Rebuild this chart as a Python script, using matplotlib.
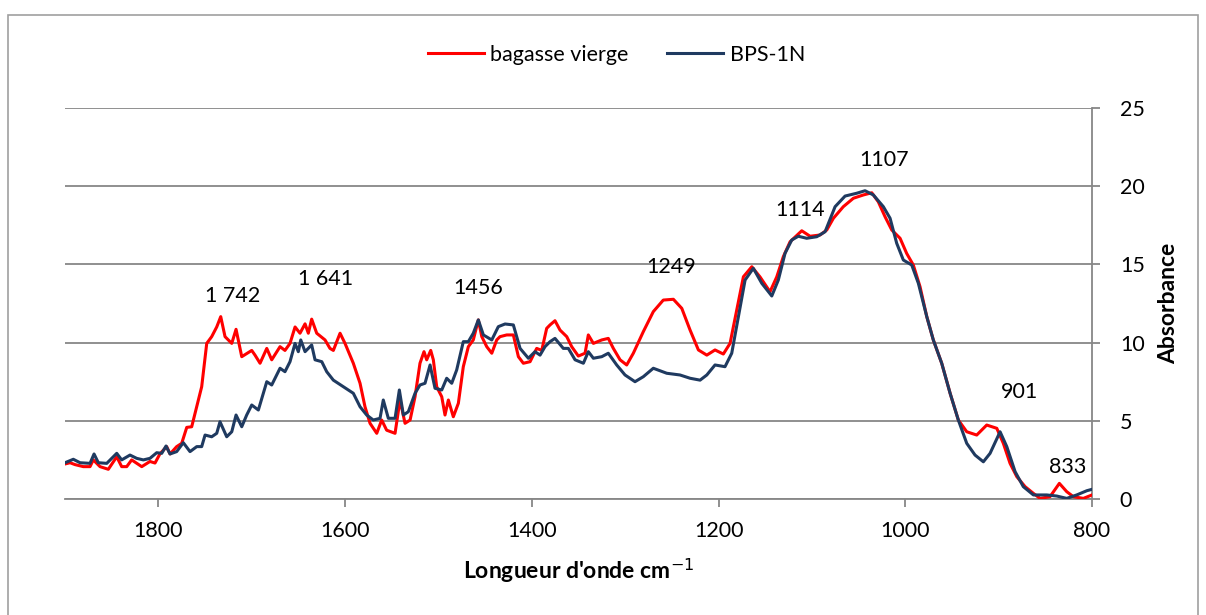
import matplotlib.pyplot as plt
from matplotlib.patches import Rectangle

plt.rcParams['font.family'] = ['Lato', 'DejaVu Sans']
plt.rcParams['mathtext.fontset'] = 'custom'
plt.rcParams['mathtext.rm'] = 'Lato:bold'
plt.rcParams['mathtext.bf'] = 'Lato:bold'
plt.rcParams['mathtext.default'] = 'bf'

# spectre bagasse vierge
w_vierge = [1900, 1894.6, 1889.3, 1880.4, 1873.2, 1869.7, 1862.5, 1853.6, 1844.6, 1839.3,
            1833.9, 1828.6, 1817.8, 1809.0, 1803.6, 1798.2, 1791.1, 1787.5, 1780.4, 1775.0,
            1769.6, 1764.3, 1758.9, 1753.6, 1748.2, 1742.9, 1737.5, 1733.2, 1728.6, 1721.4,
            1716.8, 1710.7, 1705.4, 1700.0, 1696.5, 1691.1, 1683.9, 1678.6, 1669.7, 1664.4,
            1659.0, 1653.6, 1648.3, 1642.9, 1639.4, 1635.8, 1630.4, 1621.5, 1616.2, 1612.6,
            1605.4, 1600.1, 1591.2, 1584.0, 1578.7, 1573.3, 1566.1, 1560.8, 1555.5, 1546.5,
            1541.2, 1535.8, 1530.4, 1525.1, 1519.8, 1515.5, 1512.6, 1508.3, 1505.5, 1501.9,
            1496.5, 1493.0, 1489.4, 1484.1, 1478.7, 1473.4, 1468.0, 1462.7, 1457.3, 1453.6,
            1448.3, 1442.9, 1437.6, 1434.1, 1426.9, 1419.8, 1414.4, 1409.1, 1401.9, 1394.8,
            1389.4, 1384.1, 1380.5, 1375.2, 1369.8, 1362.6, 1357.3, 1350.2, 1343.0, 1339.5,
            1334.1, 1325.1, 1318.1, 1312.7, 1305.5, 1298.4, 1291.3, 1280.6, 1269.9, 1259.2,
            1248.4, 1239.4, 1230.5, 1221.6, 1212.6, 1203.8, 1194.9, 1187.7, 1180.5, 1173.4,
            1164.4, 1155.6, 1144.9, 1137.7, 1130.6, 1123.4, 1110.9, 1102.0, 1091.3, 1084.1,
            1077.0, 1066.4, 1055.6, 1044.9, 1035.9, 1028.9, 1021.7, 1014.5, 1005.6, 998.5,
            991.4, 984.2, 977.0, 970.0, 961.0, 952.0, 943.2, 934.2, 923.5, 912.8,
            902.0, 895.0, 887.8, 880.6, 871.7, 862.8, 855.7, 845.0, 835.0, 827.1,
            820.0, 809.3, 800]
a_vierge = [2.24, 2.32, 2.2, 2.07, 2.07, 2.5, 2.07, 1.9, 2.7, 2.07,
            2.07, 2.5, 2.07, 2.4, 2.3, 2.9, 3.35, 2.88, 3.35, 3.56,
            4.58, 4.62, 5.9, 7.18, 9.95, 10.38, 11.0, 11.66, 10.38, 9.95,
            10.85, 9.1, 9.3, 9.5, 9.2, 8.68, 9.63, 8.9, 9.74, 9.5,
            9.95, 11.0, 10.6, 11.2, 10.6, 11.5, 10.6, 10.17, 9.63, 9.5,
            10.6, 9.95, 8.68, 7.4, 5.9, 4.84, 4.2, 5.05, 4.4, 4.2,
            6.33, 4.84, 5.05, 6.54, 8.68, 9.42, 8.9, 9.5, 8.9, 7.18,
            6.54, 5.37, 6.33, 5.26, 6.12, 8.46, 9.74, 10.17, 11.45, 10.38,
            9.74, 9.32, 10.17, 10.38, 10.49, 10.49, 9.1, 8.68, 8.78, 9.63,
            9.5, 10.91, 11.13, 11.4, 10.8, 10.38, 9.74, 9.14, 9.32, 10.49,
            9.95, 10.17, 10.27, 9.63, 8.9, 8.57, 9.32, 10.7, 11.98, 12.72,
            12.77, 12.19, 10.8, 9.53, 9.2, 9.53, 9.27, 9.95, 12.08, 14.21,
            14.85, 14.2, 13.25, 14.2, 15.5, 16.45, 17.15, 16.8, 16.88, 17.2,
            17.95, 18.69, 19.23, 19.44, 19.58, 19.0, 18.05, 17.2, 16.67, 15.7,
            14.96, 13.57, 11.66, 10.17, 8.68, 6.76, 5.05, 4.3, 4.09, 4.73,
            4.52, 3.56, 2.28, 1.43, 0.79, 0.36, 0.04, 0.15, 1.0, 0.47,
            0.15, 0.04, 0.26]

# spectre BPS-1N
w_bps = [1900, 1891.1, 1883.9, 1873.2, 1868.9, 1864.3, 1855.3, 1844.6, 1839.3, 1830.4,
         1823.2, 1816.1, 1809.0, 1801.8, 1796.4, 1791.8, 1787.5, 1780.4, 1773.3, 1766.1,
         1758.9, 1753.6, 1750.0, 1742.9, 1737.5, 1734.0, 1726.8, 1721.4, 1716.8, 1710.7,
         1705.4, 1700.0, 1692.9, 1683.9, 1678.6, 1669.7, 1664.4, 1659.0, 1653.6, 1650.1,
         1647.5, 1642.9, 1635.8, 1632.2, 1625.0, 1619.7, 1612.6, 1601.9, 1591.2, 1584.0,
         1576.9, 1569.8, 1562.6, 1559.1, 1553.7, 1546.5, 1541.9, 1537.6, 1532.3, 1525.1,
         1519.8, 1514.4, 1509.0, 1503.7, 1496.5, 1491.2, 1485.8, 1480.5, 1473.4, 1468.0,
         1462.7, 1457.3, 1451.9, 1442.9, 1435.9, 1428.7, 1419.8, 1412.6, 1403.7, 1396.6,
         1391.2, 1385.9, 1380.5, 1375.2, 1366.3, 1360.9, 1353.7, 1344.8, 1339.5, 1334.1,
         1325.1, 1318.1, 1309.1, 1300.2, 1289.5, 1280.6, 1269.9, 1255.5, 1241.3, 1230.5,
         1219.8, 1212.6, 1203.8, 1193.1, 1185.9, 1178.8, 1171.6, 1162.8, 1153.7, 1143.0,
         1136.0, 1128.8, 1121.6, 1114.6, 1105.6, 1094.8, 1085.9, 1075.2, 1064.5, 1052.0,
         1043.1, 1034.2, 1023.5, 1016.3, 1009.2, 1002.1, 993.1, 986.0, 977.0, 970.0,
         961.0, 952.0, 943.2, 934.2, 925.3, 916.4, 909.2, 898.5, 891.3, 882.4,
         873.6, 862.8, 848.5, 837.8, 827.1, 816.4, 805.6, 800]
a_bps = [2.32, 2.54, 2.32, 2.28, 2.88, 2.32, 2.28, 2.92, 2.5, 2.81,
         2.6, 2.5, 2.6, 2.96, 2.92, 3.39, 2.88, 3.03, 3.6, 3.03,
         3.35, 3.35, 4.09, 3.98, 4.2, 4.94, 3.98, 4.3, 5.37, 4.62,
         5.37, 6.01, 5.69, 7.5, 7.29, 8.36, 8.14, 8.78, 9.95, 9.42,
         10.17, 9.42, 9.85, 8.9, 8.78, 8.14, 7.6, 7.18, 6.76, 5.9,
         5.37, 5.05, 5.16, 6.33, 5.16, 5.16, 6.97, 5.37, 5.58, 6.76,
         7.29, 7.4, 8.57, 7.08, 6.97, 7.72, 7.4, 8.25, 10.06, 10.06,
         10.6, 11.45, 10.49, 10.17, 11.02, 11.19, 11.13, 9.63, 9.0, 9.42,
         9.2, 9.74, 10.06, 10.27, 9.63, 9.63, 8.9, 8.68, 9.42, 9.0,
         9.1, 9.32, 8.57, 7.93, 7.5, 7.82, 8.36, 8.04, 7.93, 7.72,
         7.6, 7.93, 8.57, 8.46, 9.32, 11.66, 14.0, 14.75, 13.79, 12.98,
         14.0, 15.71, 16.56, 16.8, 16.67, 16.77, 17.09, 18.69, 19.37, 19.55,
         19.71, 19.44, 18.69, 17.95, 16.35, 15.28, 14.96, 13.79, 11.66, 10.17,
         8.68, 6.76, 5.05, 3.56, 2.81, 2.38, 2.92, 4.3, 3.35, 1.75,
         0.79, 0.26, 0.26, 0.19, 0.04, 0.26, 0.53, 0.62]

# etiquettes des pics
pic_txt = ['1 742', '1 641', '1456', '1249', '1114', '1107', '901', '833']
pic_w = [1721, 1621, 1457, 1251, 1113, 1023, 878, 826]
pic_a = [12.98, 14.07, 13.49, 14.83, 18.48, 21.68, 6.84, 2.05]

x_ticks = [1800, 1600, 1400, 1200, 1000, 800]
y_ticks = [0, 5, 10, 15, 20, 25]

grid_col = '#878787'

fig = plt.figure(figsize=(12.06, 6.15), dpi=100)
ax = fig.add_axes([0.0539, 0.1886, 0.8516, 0.6358])

ax.plot(w_vierge, a_vierge, color='#ff0000', lw=2.2, solid_joinstyle='round',
        label='bagasse vierge', zorder=3)
ax.plot(w_bps, a_bps, color='#1f3a60', lw=2.2, solid_joinstyle='round',
        label='BPS-1N', zorder=4)

for t, x, y in zip(pic_txt, pic_w, pic_a):
    ax.text(x, y, t, ha='center', va='center', fontsize=15.5, color='black')

ax.set_xlim(1900, 800)
ax.set_ylim(0, 25)
ax.set_xticks(x_ticks)
ax.set_yticks(y_ticks)
ax.yaxis.tick_right()
ax.yaxis.set_label_position('right')
ax.grid(axis='y', color=grid_col, lw=1.3)
ax.set_axisbelow(True)

for s in ['top', 'left']:
    ax.spines[s].set_visible(False)
for s in ['bottom', 'right']:
    ax.spines[s].set_color(grid_col)
    ax.spines[s].set_linewidth(1.3)
ax.tick_params(axis='x', direction='out', length=6, width=1.3, color=grid_col,
               labelsize=15.5, pad=10)
ax.tick_params(axis='y', direction='out', length=6, width=1.3, color=grid_col,
               labelsize=15.5, pad=14)

ax.set_xlabel("Longueur d'onde cm$^{\\mathsf{-1}}$", fontsize=16.5, fontweight='bold',
              labelpad=11)
ax.set_ylabel('Absorbance', fontsize=16.5, fontweight='bold', labelpad=10)

fig.legend(loc='center', bbox_to_anchor=(0.511, 0.9106), ncol=2, frameon=False,
           fontsize=15.5, handlelength=2.6, columnspacing=1.8, handletextpad=0.3)

# cadre du graphique
fig.patches.append(Rectangle((8 / 1206, -0.05), 1190 / 1206, 1.05 - 15 / 615,
                             transform=fig.transFigure, fill=False,
                             edgecolor='#a0a0a0', lw=1.2))

fig.savefig('out.png', dpi=100)
